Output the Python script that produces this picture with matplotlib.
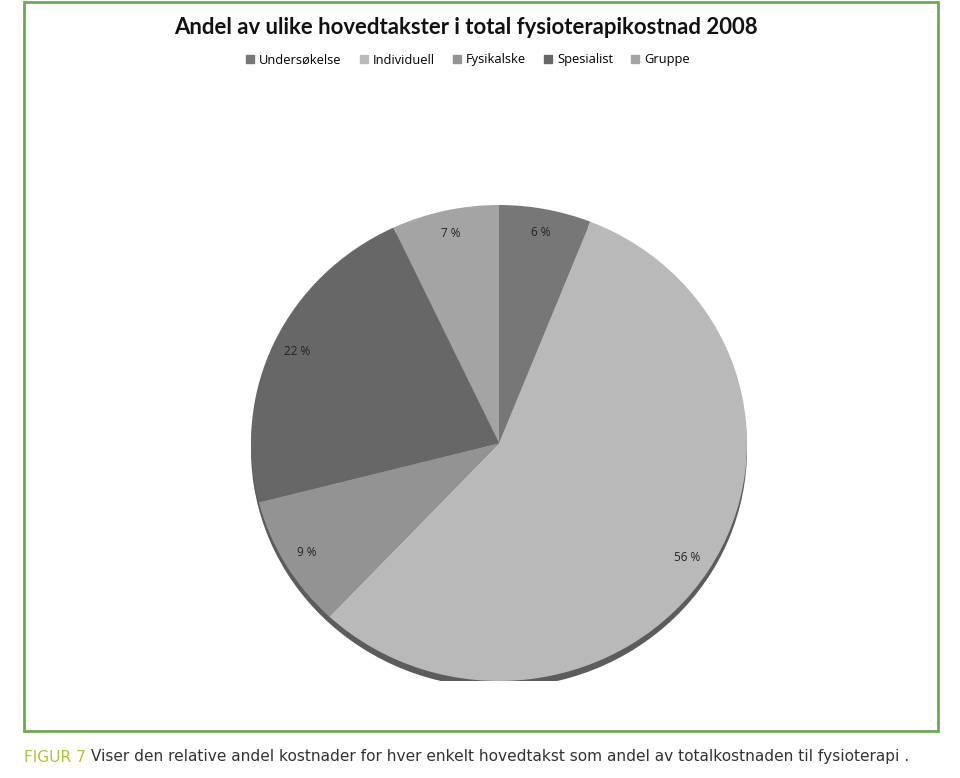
import matplotlib
matplotlib.use("Agg")
import matplotlib.pyplot as plt
from matplotlib.patches import Ellipse, Rectangle
from matplotlib import font_manager

# data
categories = ["Undersøkelse", "Individuell", "Fysikalske", "Spesialist", "Gruppe"]
shares = [6, 56, 9, 22, 7]
colors = ["#777777", "#b9b9b9", "#939393", "#676767", "#a4a4a4"]

title = "Andel av ulike hovedtakster i total fysioterapikostnad 2008"
caption_head = "FIGUR 7"
caption_body = " Viser den relative andel kostnader for hver enkelt hovedtakst som andel av totalkostnaden til fysioterapi ."

W, H = 960, 778
fig = plt.figure(figsize=(W / 100, H / 100), dpi=100)

# green frame around the chart
frame = Rectangle((24 / W, 1 - 731 / H), 914 / W, 729 / H, transform=fig.transFigure,
                  fill=False, edgecolor="#6aaa50", linewidth=2)
fig.patches.append(frame)

# pie axes (slightly squashed, like the excel original)
cx, cy, rx, ry = 499, 443, 248, 238
ax = fig.add_axes([(cx - rx) / W, 1 - (cy + ry) / H, 2 * rx / W, 2 * ry / H])

# dark rim under the pie
ax.add_patch(Ellipse((0, -0.028), 2.0, 2.0, facecolor="#5c5c5c", edgecolor="none", zorder=0))

wedges, texts, autotexts = ax.pie(
    shares, colors=colors, startangle=90, counterclock=False,
    autopct=lambda p: "%d %%" % round(p), pctdistance=0.9,
    wedgeprops=dict(linewidth=0), textprops=dict(fontsize=8.5, color="#222222", family="Open Sans"),
)
for w in wedges:
    w.set_zorder(1)
for t in autotexts:
    t.set_zorder(2)
ax.set_aspect("auto")
ax.set_xlim(-1, 1)
ax.set_ylim(-1, 1)
ax.axis("off")

# title and legend
fig.text(466 / W, 1 - 27 / H, title, ha="center", va="center", fontsize=15.9,
         fontweight="bold", family="Lato", color="#111111")
handles = [Rectangle((0, 0), 1, 1, color=c) for c in colors]
fig.legend(handles, categories, loc="center", bbox_to_anchor=(468 / W, 1 - 60 / H), ncol=5,
           frameon=False, handlelength=0.6, handleheight=0.6, handletextpad=0.4,
           columnspacing=1.4, prop=dict(family="Open Sans", size=9.3))

# caption under the frame, two colours
narrow = "Liberation Sans Narrow"
names = {f.name for f in font_manager.fontManager.ttflist}
if narrow not in names:
    narrow = "DejaVu Sans"
t1 = fig.text(24 / W, 1 - 757 / H, caption_head, ha="left", va="center", fontsize=11.1,
              family=narrow, color="#b3c232")
fig.canvas.draw()
bb = t1.get_window_extent()
fig.text(bb.x1 / W, 1 - 757 / H, caption_body, ha="left", va="center", fontsize=11.1,
         family=narrow, color="#333333")

fig.savefig("out.png", dpi=100)
